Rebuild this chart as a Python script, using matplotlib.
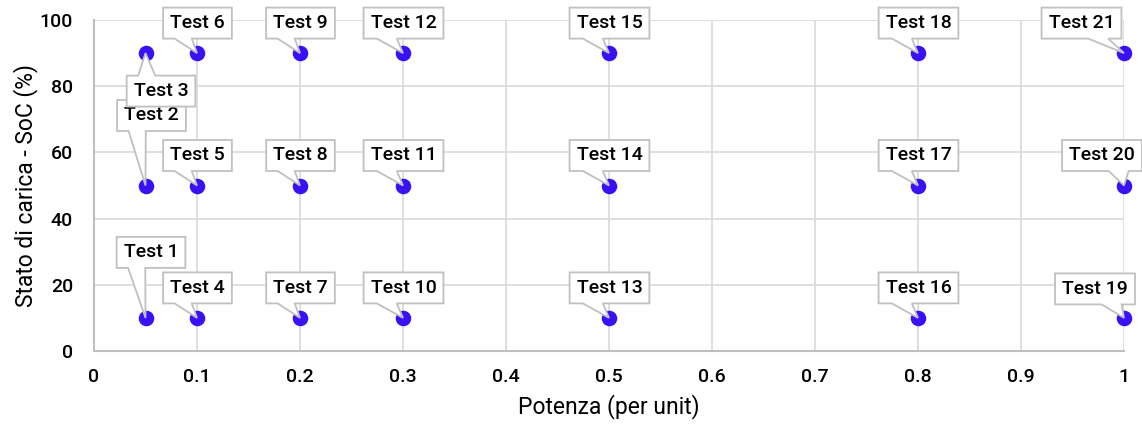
import matplotlib
matplotlib.use("Agg")
import matplotlib.pyplot as plt
from matplotlib.patches import Polygon
from matplotlib import transforms

plt.rcParams['font.family'] = ['Roboto', 'DejaVu Sans']
plt.rcParams['font.weight'] = 'medium'

power = [0.05, 0.05, 0.05, 0.1, 0.1, 0.1, 0.2, 0.2, 0.2, 0.3, 0.3, 0.3,
         0.5, 0.5, 0.5, 0.8, 0.8, 0.8, 1.0, 1.0, 1.0]
soc = [10, 50, 90] * 7
labels = [f"Test {i}" for i in range(1, 22)]

# label box-centre offsets in pixels (dx, dy up) relative to point
offsets = {1: (5.5, 65.5), 2: (6, 70), 3: (15.5, -38),
           19: (-29, 29), 20: (-22, 30), 21: (-42.5, 30)}
default_off = (0.5, 30)

EDGE = '#c0c0c0'

fig = plt.figure(figsize=(11.42, 4.28), dpi=100)
ax = fig.add_axes([94/1142, 1-351/428, (1124-94)/1142, (351-20)/428])

ax.set_xlim(0, 1)
ax.set_ylim(0, 100)
ax.set_xticks([i/10 for i in range(11)])
ax.set_xticklabels(["0", "0.1", "0.2", "0.3", "0.4", "0.5", "0.6", "0.7", "0.8", "0.9", "1"])
ax.set_yticks(range(0, 101, 20))
ax.grid(True, color='#d9d9d9', linewidth=1.2)
ax.set_axisbelow(True)
for s in ['top', 'right']:
    ax.spines[s].set_visible(False)
for s in ['left', 'bottom']:
    ax.spines[s].set_color('#bfbfbf')
    ax.spines[s].set_linewidth(1.5)
ax.tick_params(length=0, labelsize=14, colors='#000000')
ax.tick_params(axis='x', pad=12)
ax.tick_params(axis='y', pad=15)
ax.set_xlabel("Potenza (per unit)", fontsize=16.5, labelpad=6)
ax.set_ylabel("Stato di carica - SoC (%)", fontsize=16.5, labelpad=1)

ax.scatter(power, soc, s=125, color='#3a10f5', linewidths=0, zorder=3, clip_on=False)

renderer = fig.canvas.get_renderer()
PADX, PADY = 7, 6.5


def callout(x, y, text, dx, dy, z):
    t = ax.annotate(text, xy=(x, y), xytext=(dx, dy), textcoords='offset pixels',
                    ha='center', va='center', fontsize=14, zorder=z + 1,
                    annotation_clip=False)
    bb = t.get_window_extent(renderer)
    px, py = ax.transData.transform((x, y))
    l, r = bb.x0 - PADX - px, bb.x1 + PADX - px
    b, tp = bb.y0 - PADY - py, bb.y1 + PADY - py
    w, h = r - l, tp - b
    hc, vc = (l + r) / 2, (b + tp) / 2
    dxp, dyp = -hc, -vc
    dz = abs(dyp) - abs(dxp * h / w)
    if dxp > 0:
        x1, x2 = l + w * 7 / 12, l + w * 10 / 12
    else:
        x1, x2 = l + w * 2 / 12, l + w * 5 / 12
    if dyp < 0:
        yA, yB = tp - h * 7 / 12, tp - h * 10 / 12
    else:
        yA, yB = tp - h * 2 / 12, tp - h * 5 / 12
    tip = (0, 0)
    verts = [(l, tp)]
    if dz > 0 and dyp > 0:
        verts += [(x1, tp), tip, (x2, tp)]
    verts += [(r, tp)]
    if dz <= 0 and dxp > 0:
        verts += [(r, yA), tip, (r, yB)]
    verts += [(r, b)]
    if dz > 0 and dyp <= 0:
        verts += [(x2, b), tip, (x1, b)]
    verts += [(l, b)]
    if dz <= 0 and dxp <= 0:
        verts += [(l, yB), tip, (l, yA)]
    tr = transforms.Affine2D() + transforms.ScaledTranslation(x, y, ax.transData)
    poly = Polygon(verts, closed=True, fc='white', ec=EDGE, lw=1.3,
                   joinstyle='miter', transform=tr, zorder=z, clip_on=False)
    ax.add_patch(poly)


for i, (x, y, lab) in enumerate(zip(power, soc, labels), start=1):
    dx, dy = offsets.get(i, default_off)
    callout(x, y, lab, dx, dy, 10 + 2 * i)

fig.savefig("out.png", dpi=100)
